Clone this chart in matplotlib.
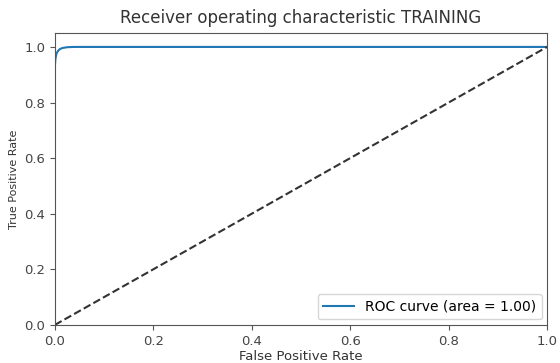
import matplotlib
matplotlib.use("Agg")
import matplotlib.pyplot as plt

fpr = [0.0, 0.0, 0.001, 0.003, 0.006, 0.01, 0.015, 0.025, 0.04, 1.0]
tpr = [0.0, 0.93, 0.955, 0.975, 0.985, 0.992, 0.996, 0.999, 1.0, 1.0]
diag_x = [0, 1]
diag_y = [0, 1]
roc_auc = 1.00

fig = plt.figure(figsize=(5.6, 3.63), dpi=100)
ax = fig.add_axes([0.098, 0.105, 0.879, 0.804])
ax.plot(fpr, tpr, color='#1f77b4', lw=1.5, label='ROC curve (area = %0.2f)' % roc_auc)
ax.plot(diag_x, diag_y, color='#333333', lw=1.5, linestyle='--')
ax.set_xlim(0.0, 1.0)
ax.set_ylim(0.0, 1.05)
ax.set_xlabel('False Positive Rate', fontsize=9.5, labelpad=2, color='#333333')
ax.set_ylabel('True Positive Rate', fontsize=8, color='#333333')
ax.set_title('Receiver operating characteristic TRAINING', fontsize=12, color='#333333', pad=7)
ax.tick_params(labelsize=9.5, labelcolor='#444444', color='#555555')
for s in ax.spines.values():
    s.set_color('#555555')
ax.legend(loc='lower right', fontsize=10, handlelength=2.2, borderaxespad=0.4)
fig.savefig('out.png', dpi=100)
